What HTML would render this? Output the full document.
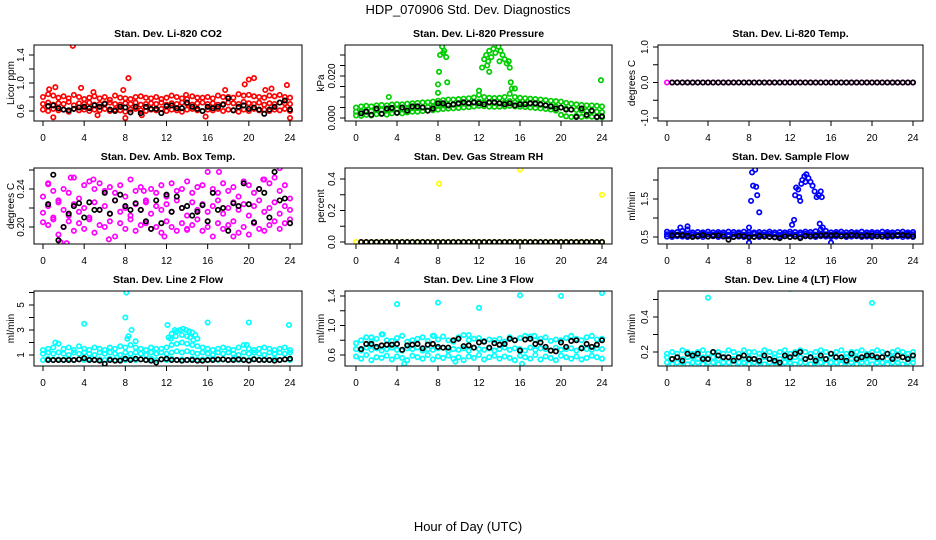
<!DOCTYPE html>
<html><head><meta charset="utf-8"><style>
html,body{margin:0;padding:0;background:#fff;}
svg{display:block;font-family:"Liberation Sans",Arial,sans-serif;}
</style></head><body>
<svg id="chart" width="936" height="540" viewBox="0 0 936 540" xmlns="http://www.w3.org/2000/svg">
<text x="468" y="14" text-anchor="middle" font-size="13">HDP_070906  Std. Dev. Diagnostics</text>
<text x="468" y="531" text-anchor="middle" font-size="13">Hour of Day (UTC)</text>
</svg>
<script>
// ---- data (colored series at hours 0,0.5,...,24; black series at hours 0.5,...,24) ----
const hourTicks = [0,4,8,12,16,20,24];

const co2Hi = [0.80,0.84,0.82,0.79,0.81,0.78,0.83,0.80,0.77,0.79,0.81,0.78,0.80,0.76,0.82,0.79,0.78,0.77,0.80,0.81,0.79,0.78,0.80,0.77,0.79,0.82,0.80,0.78,0.77,0.81,0.79,0.79,0.80,0.78,0.82,0.80,0.80,0.79,0.84,0.82,0.83,0.81,0.80,0.79,0.82,0.81,0.83,0.80,0.79];
const co2Mid = [0.70,0.72,0.69,0.71,0.70,0.73,0.68,0.71,0.70,0.72,0.69,0.70,0.71,0.72,0.70,0.69,0.71,0.70,0.72,0.69,0.70,0.71,0.70,0.72,0.69,0.71,0.70,0.72,0.70,0.69,0.71,0.72,0.70,0.71,0.69,0.70,0.72,0.71,0.70,0.73,0.71,0.70,0.72,0.69,0.71,0.70,0.72,0.71,0.70];
const co2Lo = [0.62,0.60,0.63,0.61,0.62,0.59,0.63,0.61,0.62,0.60,0.62,0.61,0.63,0.60,0.62,0.61,0.59,0.62,0.63,0.61,0.60,0.62,0.61,0.63,0.60,0.62,0.61,0.59,0.62,0.63,0.61,0.60,0.62,0.61,0.63,0.60,0.62,0.61,0.59,0.62,0.60,0.63,0.61,0.62,0.60,0.62,0.61,0.63,0.60];
const co2Out = [[2.9,1.53],[8.3,1.07],[20.5,1.07],[20.0,1.05],[19.6,0.98],[23.7,0.97],[1.2,0.94],[3.7,0.93],[0.6,0.91],[4.9,0.87],[7.8,0.90],[22.2,0.92],[21.6,0.90],[1.0,0.51],[8.0,0.50],[24.0,0.50],[15.8,0.52],[17.7,0.90],[13.9,0.83],[9.6,0.54],[5.3,0.54]];
const co2Blk = [0.67,0.68,0.64,0.62,0.61,0.63,0.65,0.66,0.64,0.68,0.66,0.70,0.62,0.60,0.66,0.65,0.58,0.66,0.57,0.66,0.63,0.63,0.57,0.67,0.68,0.64,0.64,0.72,0.66,0.63,0.60,0.66,0.64,0.66,0.69,0.78,0.61,0.66,0.68,0.63,0.65,0.62,0.56,0.62,0.66,0.72,0.75,0.62];

const presHi = [0.0050,0.0055,0.0058,0.0055,0.0060,0.0062,0.0060,0.0064,0.0066,0.0065,0.0068,0.0070,0.0072,0.0074,0.0075,0.0078,0.0082,0.0085,0.0088,0.0088,0.0090,0.0092,0.0094,0.0098,0.0110,0.0100,0.0096,0.0095,0.0096,0.0100,0.0115,0.0100,0.0096,0.0094,0.0092,0.0090,0.0088,0.0085,0.0082,0.0080,0.0078,0.0072,0.0068,0.0065,0.0062,0.0060,0.0060,0.0058,0.0055];
const presMid = [0.0030,0.0032,0.0035,0.0033,0.0037,0.0038,0.0036,0.0040,0.0042,0.0041,0.0045,0.0047,0.0048,0.0050,0.0052,0.0055,0.0058,0.0060,0.0063,0.0064,0.0066,0.0068,0.0070,0.0073,0.0078,0.0075,0.0072,0.0071,0.0072,0.0074,0.0080,0.0074,0.0072,0.0070,0.0068,0.0066,0.0064,0.0061,0.0058,0.0055,0.0050,0.0045,0.0040,0.0038,0.0035,0.0033,0.0032,0.0030,0.0028];
const presLo = [0.0012,0.0010,0.0015,0.0012,0.0018,0.0020,0.0016,0.0022,0.0024,0.0022,0.0027,0.0030,0.0030,0.0033,0.0035,0.0037,0.0040,0.0043,0.0045,0.0046,0.0048,0.0050,0.0052,0.0055,0.0058,0.0056,0.0054,0.0053,0.0054,0.0055,0.0058,0.0055,0.0054,0.0052,0.0050,0.0048,0.0046,0.0043,0.0040,0.0035,0.0015,0.0008,0.0005,0.0010,0.0005,0.0008,0.0006,0.0004,0.0003];
const presOut = [[8.2,0.030],[8.4,0.034],[8.6,0.032],[8.7,0.036],[8.5,0.031],[8.8,0.029],[8.1,0.022],[8.0,0.016],[8.9,0.017],[8.0,0.012],[3.2,0.010],[12.3,0.024],[12.5,0.028],[12.7,0.030],[12.9,0.027],[13.0,0.032],[13.2,0.029],[13.4,0.033],[13.6,0.031],[13.7,0.036],[13.9,0.034],[14.1,0.032],[14.3,0.030],[14.5,0.028],[14.7,0.026],[14.9,0.027],[13.0,0.022],[14.0,0.027],[12.8,0.025],[15.0,0.024],[15.1,0.017],[15.2,0.014],[23.9,0.018],[12.0,0.013],[15.5,0.014]];
const presBlk = [0.0022,0.0030,0.0015,0.0045,0.0020,0.0045,0.0048,0.0025,0.0050,0.0035,0.0055,0.0055,0.0050,0.0035,0.0045,0.0070,0.0070,0.0060,0.0065,0.0070,0.0075,0.0070,0.0075,0.0070,0.0065,0.0075,0.0075,0.0070,0.0065,0.0070,0.0060,0.0065,0.0065,0.0070,0.0070,0.0065,0.0060,0.0055,0.0045,0.0050,0.0040,0.0040,0.0005,0.0045,0.0015,0.0035,0.0005,0.0008];

const tempCol = [0,0,0,0,0,0,0,0,0,0,0,0,0,0,0,0,0,0,0,0,0,0,0,0,0,0,0,0,0,0,0,0,0,0,0,0,0,0,0,0,0,0,0,0,0,0,0,0,0];
const tempBlk = [0,0,0,0,0,0,0,0,0,0,0,0,0,0,0,0,0,0,0,0,0,0,0,0,0,0,0,0,0,0,0,0,0,0,0,0,0,0,0,0,0,0,0,0,0,0,0,0];

const ambHi = [0.232,0.245,0.238,0.228,0.240,0.236,0.252,0.230,0.244,0.248,0.240,0.246,0.238,0.242,0.236,0.244,0.232,0.250,0.238,0.242,0.228,0.240,0.236,0.244,0.232,0.246,0.238,0.240,0.248,0.236,0.242,0.244,0.258,0.240,0.236,0.246,0.238,0.242,0.232,0.248,0.244,0.236,0.240,0.250,0.246,0.252,0.238,0.244,0.230];
const ambMid = [0.215,0.222,0.208,0.226,0.218,0.212,0.224,0.216,0.220,0.210,0.226,0.218,0.222,0.214,0.228,0.216,0.220,0.212,0.224,0.218,0.226,0.214,0.222,0.218,0.224,0.216,0.228,0.220,0.212,0.226,0.218,0.224,0.216,0.222,0.228,0.214,0.220,0.226,0.218,0.224,0.212,0.222,0.228,0.216,0.220,0.226,0.214,0.222,0.218];
const ambLo = [0.205,0.202,0.210,0.192,0.200,0.206,0.196,0.204,0.198,0.208,0.194,0.202,0.200,0.206,0.190,0.204,0.198,0.208,0.196,0.202,0.204,0.198,0.200,0.194,0.206,0.200,0.196,0.204,0.198,0.202,0.208,0.196,0.200,0.190,0.204,0.198,0.202,0.206,0.194,0.200,0.192,0.204,0.198,0.196,0.202,0.206,0.198,0.204,0.208];
const ambOut = [[1.7,0.184],[2.3,0.183],[2.7,0.252],[4.9,0.250],[18.5,0.190],[17.1,0.258],[23.0,0.262],[11.8,0.190],[14.0,0.197],[21.4,0.250],[6.4,0.187],[9.8,0.238],[0.5,0.246]];
const ambBlk = [0.224,0.255,0.186,0.200,0.214,0.222,0.225,0.210,0.226,0.218,0.218,0.236,0.214,0.228,0.234,0.222,0.218,0.225,0.218,0.206,0.198,0.228,0.204,0.234,0.216,0.232,0.220,0.222,0.212,0.216,0.223,0.206,0.236,0.218,0.220,0.196,0.225,0.222,0.246,0.224,0.205,0.240,0.236,0.210,0.258,0.228,0.230,0.204];

const rhCol = [0,0,0,0,0,0,0,0,0,0,0,0,0,0,0,0,0,0,0,0,0,0,0,0,0,0,0,0,0,0,0,0,0,0,0,0,0,0,0,0,0,0,0,0,0,0,0,0,0];
const rhOut = [[8.1,0.37],[16.0,0.46],[24.0,0.30]];
const rhBlk = [0,0,0,0,0,0,0,0,0,0,0,0,0,0,0,0,0,0,0,0,0,0,0,0,0,0,0,0,0,0,0,0,0,0,0,0,0,0,0,0,0,0,0,0,0,0,0,0];

const flowHi = [0.64,0.62,0.63,0.66,0.70,0.62,0.63,0.62,0.64,0.62,0.63,0.62,0.64,0.63,0.62,0.64,0.63,0.62,0.63,0.62,0.64,0.62,0.63,0.62,0.64,0.63,0.62,0.64,0.63,0.65,0.70,0.66,0.62,0.63,0.64,0.62,0.63,0.62,0.64,0.62,0.63,0.62,0.64,0.63,0.62,0.63,0.64,0.62,0.63];
const flowMid = [0.57,0.58,0.56,0.57,0.58,0.57,0.56,0.58,0.57,0.56,0.58,0.57,0.56,0.57,0.58,0.56,0.57,0.58,0.57,0.56,0.58,0.57,0.56,0.57,0.58,0.56,0.57,0.58,0.57,0.56,0.58,0.57,0.56,0.58,0.57,0.56,0.57,0.58,0.56,0.57,0.58,0.57,0.56,0.58,0.57,0.56,0.57,0.58,0.57];
const flowLo = [0.51,0.50,0.52,0.51,0.50,0.52,0.51,0.50,0.51,0.52,0.50,0.51,0.52,0.50,0.51,0.50,0.52,0.51,0.50,0.52,0.51,0.50,0.51,0.52,0.50,0.51,0.50,0.52,0.51,0.50,0.52,0.51,0.50,0.51,0.52,0.50,0.51,0.52,0.50,0.51,0.50,0.52,0.51,0.50,0.51,0.52,0.50,0.51,0.50];
const flowOut = [[8.3,2.2],[8.6,2.27],[8.4,1.85],[8.7,1.82],[8.8,1.6],[8.2,1.45],[9.0,1.15],[8.0,0.75],[8.0,0.35],[12.2,0.82],[12.4,0.95],[12.5,1.6],[12.6,1.8],[12.8,1.75],[12.9,1.55],[13.0,1.45],[13.2,2.0],[13.4,2.1],[13.6,2.15],[13.8,2.05],[14.0,1.95],[14.2,1.85],[14.4,1.7],[14.6,1.55],[14.8,1.6],[15.0,1.7],[15.1,1.55],[13.1,1.9],[13.5,1.95],[14.9,0.85],[15.2,0.75],[16.0,0.35],[24.0,0.25],[1.3,0.75],[2.0,0.78]];
const flowBlk = [0.54,0.55,0.55,0.53,0.50,0.52,0.55,0.51,0.53,0.54,0.52,0.43,0.50,0.53,0.52,0.49,0.50,0.53,0.51,0.50,0.49,0.47,0.52,0.50,0.51,0.47,0.53,0.52,0.53,0.54,0.55,0.54,0.55,0.52,0.53,0.55,0.54,0.52,0.54,0.53,0.52,0.51,0.54,0.53,0.55,0.55,0.54,0.52];

const l2Hi = [1.4,1.5,1.6,1.9,1.5,1.6,1.4,1.7,1.5,1.4,1.6,1.5,1.4,1.6,1.5,1.7,1.6,1.8,1.6,1.5,1.4,1.6,1.5,1.5,1.6,1.8,1.9,2.0,1.9,1.8,1.7,1.6,1.5,1.4,1.5,1.6,1.5,1.4,1.6,1.8,1.5,1.4,1.5,1.6,1.5,1.4,1.5,1.6,1.4];
const l2Mid = [1.1,1.2,1.1,1.2,1.1,1.0,1.2,1.1,1.2,1.1,1.0,1.2,1.1,1.2,1.1,1.0,1.2,1.1,1.2,1.1,1.0,1.2,1.1,1.2,1.1,1.2,1.3,1.2,1.3,1.2,1.1,1.2,1.1,1.0,1.2,1.1,1.2,1.1,1.0,1.2,1.1,1.2,1.1,1.0,1.2,1.1,1.2,1.1,1.2];
const l2Lo = [0.6,0.7,0.6,0.65,0.6,0.7,0.6,0.65,0.6,0.7,0.6,0.65,0.6,0.7,0.6,0.65,0.6,0.7,0.6,0.65,0.6,0.7,0.6,0.65,0.6,0.7,0.6,0.65,0.6,0.7,0.6,0.65,0.6,0.7,0.6,0.65,0.6,0.7,0.6,0.65,0.6,0.7,0.6,0.65,0.6,0.7,0.6,0.65,0.6];
const l2Out = [[8.1,6.0],[8.0,4.0],[4.0,3.5],[12.1,3.4],[16.0,3.6],[20.0,3.6],[23.9,3.4],[8.6,3.0],[8.3,2.5],[8.2,2.3],[9.0,2.1],[1.2,2.0],[19.8,1.8],[12.2,2.4],[12.5,2.7],[12.8,3.0],[13.0,2.9],[13.3,3.0],[13.6,3.1],[13.9,3.0],[14.2,2.9],[14.5,2.8],[14.8,2.6],[15.0,2.3],[12.4,2.3],[13.5,2.6],[14.0,2.5],[14.6,2.2],[12.9,2.5],[14.3,2.4]];
const l2Blk = [0.6,0.6,0.6,0.6,0.6,0.6,0.65,0.75,0.6,0.6,0.55,0.3,0.6,0.55,0.55,0.7,0.6,0.7,0.65,0.6,0.55,0.4,0.65,0.7,0.6,0.6,0.55,0.6,0.6,0.55,0.55,0.6,0.6,0.65,0.65,0.6,0.6,0.65,0.6,0.55,0.65,0.6,0.6,0.6,0.55,0.6,0.65,0.7];

const l3Hi = [0.76,0.80,0.84,0.78,0.82,0.88,0.80,0.79,0.83,0.86,0.78,0.80,0.82,0.84,0.79,0.86,0.81,0.85,0.80,0.78,0.84,0.87,0.80,0.82,0.83,0.79,0.81,0.80,0.82,0.78,0.84,0.80,0.83,0.86,0.85,0.80,0.82,0.84,0.79,0.81,0.80,0.83,0.86,0.82,0.80,0.84,0.86,0.81,0.82];
const l3Mid = [0.68,0.66,0.70,0.67,0.69,0.66,0.68,0.70,0.67,0.66,0.69,0.68,0.70,0.66,0.68,0.67,0.69,0.70,0.66,0.68,0.67,0.69,0.66,0.70,0.68,0.67,0.69,0.66,0.68,0.70,0.67,0.69,0.68,0.66,0.70,0.67,0.69,0.68,0.66,0.70,0.67,0.68,0.69,0.66,0.70,0.68,0.67,0.69,0.68];
const l3Lo = [0.58,0.55,0.60,0.53,0.57,0.56,0.59,0.54,0.58,0.56,0.53,0.59,0.57,0.55,0.60,0.54,0.58,0.56,0.59,0.55,0.57,0.53,0.58,0.56,0.60,0.54,0.57,0.59,0.55,0.58,0.56,0.53,0.59,0.57,0.55,0.60,0.54,0.58,0.56,0.53,0.59,0.57,0.55,0.58,0.54,0.56,0.59,0.57,0.55];
const l3Out = [[4.0,1.29],[8.0,1.31],[12.0,1.24],[16.0,1.41],[20.0,1.40],[24.0,1.44],[2.6,0.88],[11.0,0.87],[4.7,0.48],[16.2,0.48],[9.7,0.51],[1.5,0.84],[7.6,0.86],[17.4,0.86]];
const l3Blk = [0.68,0.75,0.75,0.71,0.73,0.74,0.74,0.75,0.67,0.73,0.74,0.75,0.69,0.74,0.75,0.71,0.70,0.70,0.80,0.82,0.72,0.73,0.70,0.77,0.78,0.70,0.76,0.74,0.75,0.82,0.80,0.66,0.81,0.82,0.75,0.77,0.71,0.66,0.65,0.77,0.71,0.79,0.80,0.69,0.75,0.71,0.74,0.80];

const l4Hi = [0.19,0.20,0.19,0.21,0.20,0.19,0.20,0.21,0.19,0.20,0.20,0.19,0.21,0.20,0.19,0.21,0.20,0.20,0.19,0.21,0.20,0.19,0.20,0.21,0.19,0.20,0.21,0.20,0.19,0.20,0.21,0.20,0.19,0.20,0.21,0.19,0.20,0.20,0.21,0.19,0.20,0.21,0.20,0.19,0.20,0.21,0.20,0.19,0.20];
const l4Mid = [0.17,0.16,0.17,0.16,0.17,0.17,0.16,0.17,0.16,0.17,0.16,0.17,0.17,0.16,0.17,0.16,0.17,0.16,0.17,0.17,0.16,0.17,0.16,0.17,0.16,0.17,0.17,0.16,0.17,0.16,0.17,0.16,0.17,0.17,0.16,0.17,0.16,0.17,0.16,0.17,0.17,0.16,0.17,0.16,0.17,0.16,0.17,0.17,0.16];
const l4Lo = [0.14,0.13,0.14,0.14,0.13,0.14,0.14,0.13,0.14,0.14,0.13,0.14,0.14,0.13,0.14,0.14,0.13,0.14,0.14,0.13,0.14,0.14,0.13,0.14,0.14,0.13,0.14,0.14,0.13,0.14,0.14,0.13,0.14,0.14,0.13,0.14,0.14,0.13,0.14,0.14,0.13,0.14,0.14,0.13,0.14,0.14,0.13,0.14,0.14];
const l4Out = [[4.0,0.51],[12.0,0.56],[20.0,0.48]];
const l4Blk = [0.16,0.17,0.15,0.19,0.18,0.19,0.16,0.16,0.20,0.18,0.17,0.17,0.15,0.17,0.18,0.16,0.16,0.15,0.18,0.16,0.15,0.14,0.18,0.17,0.19,0.20,0.16,0.17,0.15,0.18,0.16,0.19,0.17,0.17,0.15,0.19,0.16,0.17,0.18,0.18,0.17,0.17,0.19,0.16,0.18,0.17,0.16,0.18];

// ---- layout ----
const NS = 'http://www.w3.org/2000/svg';
const svg = document.getElementById('chart');
const cols = [{l:34,r:302,x0:43,x24:290,yl:10},{l:345,r:612,x0:356,x24:602,yl:320},{l:658,r:923,x0:667,x24:913,yl:631}];
const rows = [{t:45,b:121},{t:168,b:244},{t:291,b:366}];
const panels = [
 {name:'co2',title:'Stan. Dev. Li-820 CO2',ylab:'Licor ppm',color:'#ff0000',c:0,r:0,map:[0.6,111,1.4,55],ticks:[0.6,0.8,1.0,1.2,1.4],labels:[[0.6,'0.6'],[1.0,'1.0'],[1.4,'1.4']],series:[co2Hi,co2Mid,co2Lo],out:co2Out,blk:co2Blk},
 {name:'pressure',title:'Stan. Dev. Li-820 Pressure',ylab:'kPa',color:'#00cd00',c:1,r:0,map:[0,118,0.03,55],ticks:[0,0.005,0.01,0.015,0.02,0.025,0.03],labels:[[0,'0.000'],[0.02,'0.020']],series:[presHi,presMid,presLo],out:presOut,blk:presBlk},
 {name:'temp',title:'Stan. Dev. Li-820 Temp.',ylab:'degrees C',color:'#ff00ff',c:2,r:0,map:[-1,118,1,47],ticks:[-1,-0.5,0,0.5,1],labels:[[-1,'-1.0'],[0,'0.0'],[1,'1.0']],series:[tempCol],out:[],blk:tempBlk},
 {name:'amb-box-temp',title:'Stan. Dev. Amb. Box Temp.',ylab:'degrees C',color:'#ff00ff',c:0,r:1,map:[0.20,227,0.24,189],ticks:[0.20,0.22,0.24,0.26],labels:[[0.20,'0.20'],[0.24,'0.24']],series:[ambHi,ambMid,ambLo],out:ambOut,blk:ambBlk},
 {name:'gas-rh',title:'Stan. Dev. Gas Stream RH',ylab:'percent',color:'#ffff00',c:1,r:1,map:[0,242,0.4,179],ticks:[0,0.1,0.2,0.3,0.4],labels:[[0,'0.0'],[0.2,'0.2'],[0.4,'0.4']],series:[rhCol],out:rhOut,blk:rhBlk},
 {name:'sample-flow',title:'Stan. Dev. Sample Flow',ylab:'ml/min',color:'#0000ff',c:2,r:1,map:[0.5,237,1.5,199],ticks:[0.5,1.0,1.5,2.0],labels:[[0.5,'0.5'],[1.5,'1.5']],series:[flowHi,flowMid,flowLo],out:flowOut,blk:flowBlk},
 {name:'line2-flow',title:'Stan. Dev. Line 2 Flow',ylab:'ml/min',color:'#00ffff',c:0,r:2,map:[1,355,5,305],ticks:[1,2,3,4,5,6],labels:[[1,'1'],[3,'3'],[5,'5']],series:[l2Hi,l2Mid,l2Lo],out:l2Out,blk:l2Blk},
 {name:'line3-flow',title:'Stan. Dev. Line 3 Flow',ylab:'ml/min',color:'#00ffff',c:1,r:2,map:[0.6,355,1.4,296],ticks:[0.6,0.8,1.0,1.2,1.4],labels:[[0.6,'0.6'],[1.0,'1.0'],[1.4,'1.4']],series:[l3Hi,l3Mid,l3Lo],out:l3Out,blk:l3Blk},
 {name:'line4-flow',title:'Stan. Dev. Line 4 (LT) Flow',ylab:'ml/min',color:'#00ffff',c:2,r:2,map:[0.2,352,0.4,317],ticks:[0.2,0.3,0.4,0.5],labels:[[0.2,'0.2'],[0.4,'0.4']],series:[l4Hi,l4Mid,l4Lo],out:l4Out,blk:l4Blk}
];

function mk(tag, attrs, parent){
  const e = document.createElementNS(NS, tag);
  for (const k in attrs) e.setAttribute(k, attrs[k]);
  parent.appendChild(e);
  return e;
}

panels.forEach(p => {
  const col = cols[p.c], row = rows[p.r];
  const xs = h => col.x0 + (col.x24 - col.x0) * h / 24;
  const ys = v => p.map[1] + (v - p.map[0]) * (p.map[3] - p.map[1]) / (p.map[2] - p.map[0]);
  const g = mk('g', {}, svg);
  
  
  const clip = mk('clipPath', {id: 'clip-' + p.name}, g);
  mk('rect', {x: col.l, y: row.t, width: col.r - col.l, height: row.b - row.t}, clip);

  const t = mk('text', {x: (col.l + col.r) / 2, y: row.t - 8, 'text-anchor': 'middle', 'font-size': 10.5, 'font-weight': 'bold'}, g);
  
  
  t.textContent = p.title;

  const yl = mk('text', {x: col.yl, y: (row.t + row.b) / 2, 'text-anchor': 'middle', 'font-size': 10, transform: `rotate(-90 ${col.yl} ${(row.t + row.b) / 2})`, dy: 4}, g);
  
  
  yl.textContent = p.ylab;

  const pts = mk('g', {'clip-path': `url(#clip-${p.name})`, fill: 'none', 'stroke-width': 1.7}, g);
  
  
  p.series.forEach(arr => arr.forEach((v, i) => {
    const c = mk('circle', {cx: xs(i * 0.5), cy: ys(v), r: 2.2, stroke: p.color}, pts);
    
    
  }));
  p.out.forEach(o => {
    const c = mk('circle', {cx: xs(o[0]), cy: ys(o[1]), r: 2.2, stroke: p.color}, pts);
    
    
  });
  p.blk.forEach((v, i) => {
    const c = mk('circle', {cx: xs((i + 1) * 0.5), cy: ys(v), r: 2.2, stroke: '#000'}, pts);
    
    
  });

  const box = mk('rect', {x: col.l, y: row.t, width: col.r - col.l, height: row.b - row.t, fill: 'none', stroke: '#000', 'stroke-width': 1}, g);
  
  

  const xa = mk('g', {stroke: '#000', 'stroke-width': 1}, g);
  
  
  hourTicks.forEach(h => {
    mk('line', {x1: xs(h), x2: xs(h), y1: row.b, y2: row.b + 5}, xa);
    const tl = mk('text', {x: xs(h), y: row.b + 20, 'text-anchor': 'middle', 'font-size': 10, stroke: 'none', fill: '#000'}, xa);
    
    
    tl.textContent = h;
  });

  const ya = mk('g', {stroke: '#000', 'stroke-width': 1}, g);
  
  
  p.ticks.forEach(v => mk('line', {x1: col.l - 5, x2: col.l, y1: ys(v), y2: ys(v)}, ya));
  p.labels.forEach(lb => {
    const x = col.l - 10, y = ys(lb[0]);
    const tl = mk('text', {x: x, y: y, 'text-anchor': 'middle', 'font-size': 10, stroke: 'none', fill: '#000', transform: `rotate(-90 ${x} ${y})`}, ya);
    
    
    tl.textContent = lb[1];
  });
});
</script>
</body></html>
